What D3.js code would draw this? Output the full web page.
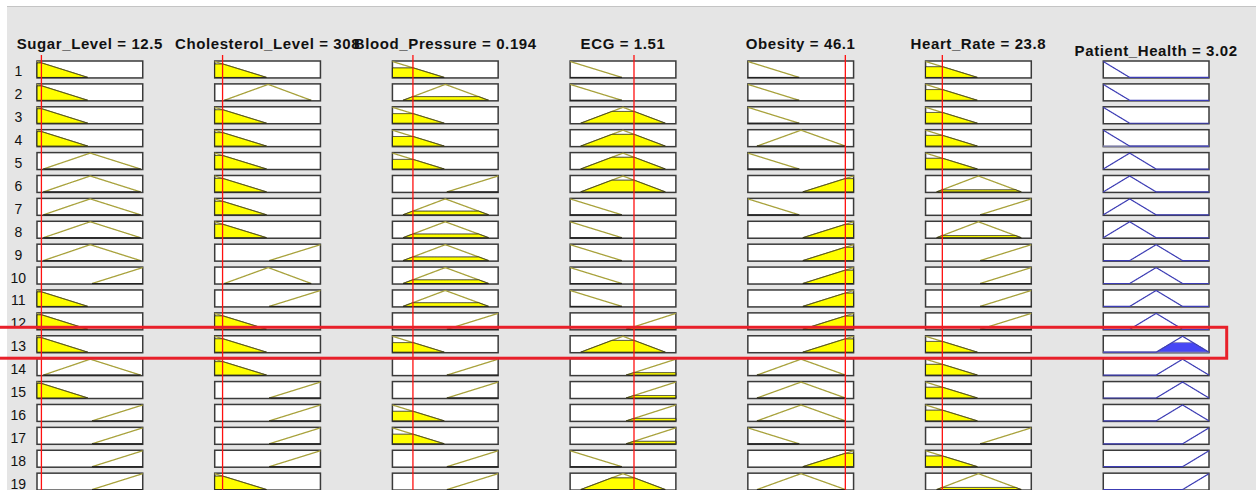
<!DOCTYPE html>
<html>
<head>
<meta charset="utf-8">
<script src="https://cdn.jsdelivr.net/npm/d3@7"></script>
<style>
  body { margin: 0; background: #fff; }
  text { font-family: "Liberation Sans", Arial, Helvetica, sans-serif; fill: #111; }
</style>
</head>
<body>
<svg width="1256" height="490"></svg>
<script>
// fuzzy inputs
var inputNames = ["Sugar_Level", "Cholesterol_Level", "Blood_Pressure", "ECG", "Obesity", "Heart_Rate"];
var inputValues = [12.5, 308, 0.194, 1.51, 46.1, 23.8];
var inputRanges = [[0, 300], [100, 2900], [0, 1], [0, 2.5], [0, 50], [0, 150]];

// triangle MFs [a, b, c] : low, medium, high
var sugarMF = [[-144, 0, 144], [18, 151, 294], [156, 300, 444]];
var cholesterolMF = [[-1272, 100, 1472], [352, 1517, 2656], [1542, 2900, 4258]];
var pressureMF = [[-0.49, 0, 0.49], [0.1, 0.5, 0.91], [0.515, 1, 1.485]];
var ecgMF = [[-1.225, 0, 1.225], [0.25, 1.25, 2.25], [1.325, 2.5, 3.675]];
var obesityMF = [[-24.3, 0, 24.3], [4.3, 25.15, 46.2], [26, 50, 74]];
var heartRateMF = [[-73.5, 0, 73.5], [15.75, 75, 135.75], [77.25, 150, 222.75]];
var inputMFs = [sugarMF, cholesterolMF, pressureMF, ecgMF, obesityMF, heartRateMF];

var outputName = "Patient_Health";
var outputValue = 3.02;
var outputRange = [0, 4];
var healthMF = [[-1, 0, 1], [0, 1, 2], [1, 2, 3], [2, 3, 4], [3, 4, 5]];

// rule antecedents (0 low, 1 medium, 2 high) and consequents
var ruleInputs = [
  [0, 0, 0, 0, 0, 0],
  [0, 1, 1, 0, 0, 0],
  [0, 0, 0, 1, 0, 0],
  [0, 0, 0, 1, 1, 0],
  [1, 0, 0, 1, 0, 0],
  [1, 0, 2, 1, 2, 1],
  [1, 0, 1, 0, 0, 2],
  [1, 0, 1, 0, 2, 1],
  [1, 2, 1, 0, 2, 2],
  [2, 1, 1, 0, 2, 2],
  [0, 2, 1, 0, 2, 2],
  [0, 0, 2, 2, 2, 2],
  [0, 0, 0, 1, 2, 0],
  [1, 0, 2, 2, 1, 0],
  [0, 2, 2, 2, 1, 0],
  [2, 2, 0, 2, 1, 0],
  [2, 2, 0, 2, 0, 2],
  [2, 2, 2, 0, 2, 0],
  [2, 0, 2, 1, 1, 1]
];
var ruleOutputs = [0, 0, 0, 0, 1, 1, 1, 1, 2, 2, 2, 2, 3, 3, 3, 3, 4, 4, 4];
var highlightRule = 13;

var svg = d3.select("svg");
var W = 1256, H = 490;

function trimf(x, p) {
  var a = p[0], b = p[1], c = p[2];
  if (x <= a || x >= c) return (x == b) ? 1 : 0;
  return x <= b ? (x - a) / (b - a) : (c - x) / (c - b);
}

// sample points over [lo,hi] with the MF corners included
function samples(lo, hi, p) {
  var xs = d3.range(201).map(function(i) { return lo + (hi - lo) * i / 200; });
  p.forEach(function(v) { if (v > lo && v < hi) xs.push(v); });
  return xs.sort(function(a, b) { return a - b; });
}

// background like the matlab figure
svg.append("rect").attr("width", W).attr("height", H).attr("fill", "#fff");
svg.append("rect").attr("x", 7).attr("y", 7).attr("width", W - 7).attr("height", H - 7).attr("fill", "#e5e5e5");
svg.append("line").attr("x1", 7).attr("x2", W).attr("y1", 6.5).attr("y2", 6.5).attr("stroke", "#c4c4c4");

var col = d3.scaleBand().domain(d3.range(7)).range([37, 1209]).paddingInner(0.405).paddingOuter(0);
var rowIds = d3.range(1, ruleInputs.length + 1);
var row = d3.scaleBand().domain(rowIds).range([61, 490.1]).paddingInner(0.26).paddingOuter(0);
var bw = col.bandwidth(), bh = row.bandwidth();

var line = d3.line();

// firing strength of each rule (AND = min)
var strengths = ruleInputs.map(function(r) {
  return d3.min(r.map(function(m, j) { return trimf(inputValues[j], inputMFs[j][m]); }));
});

function box(x0, top) {
  svg.append("rect")
    .attr("x", x0).attr("y", top).attr("width", bw).attr("height", bh)
    .attr("fill", "#fff").attr("stroke", "#3a3a3a").attr("stroke-width", 1.5);
}

rowIds.forEach(function(id, i) {
  var top = row(id);
  var y = d3.scaleLinear().domain([0, 1]).range([top + bh - 0.5, top + 0.5]);

  // row number
  svg.append("text")
    .attr("x", 18.3).attr("y", top + bh - 1.5)
    .attr("text-anchor", "middle")
    .attr("font-size", "14px")
    .text(id);

  // input plots
  inputNames.forEach(function(name, j) {
    var x = d3.scaleLinear().domain(inputRanges[j]).range([col(j), col(j) + bw]);
    var p = inputMFs[j][ruleInputs[i][j]];
    var lo = Math.max(p[0], inputRanges[j][0]), hi = Math.min(p[2], inputRanges[j][1]);
    var xs = samples(lo, hi, p);
    var deg = trimf(inputValues[j], p);

    box(col(j), top);

    svg.append("path")
      .attr("d", line(xs.map(function(v) { return [x(v), y(trimf(v, p))]; })))
      .attr("fill", "none").attr("stroke", "#a8a23c").attr("stroke-width", 1.3);

    var area = xs.map(function(v) { return [x(v), y(Math.min(trimf(v, p), deg))]; });
    area.push([x(hi), y(0)]);
    area.unshift([x(lo), y(0)]);
    svg.append("path")
      .attr("d", line(area) + "Z")
      .attr("fill", "#ffff00").attr("stroke", "#222").attr("stroke-width", 1);
  });

  // output plot
  var xo = d3.scaleLinear().domain(outputRange).range([col(6), col(6) + bw]);
  var po = healthMF[ruleOutputs[i]];
  var xso = samples(outputRange[0], outputRange[1], po);
  box(col(6), top);
  if (strengths[i] > 0) {
    var s = strengths[i];
    var oa = xso.map(function(v) { return [xo(v), y(Math.min(trimf(v, po), s))]; });
    oa.push([xo(outputRange[1]), y(0)]);
    oa.unshift([xo(outputRange[0]), y(0)]);
    svg.append("path")
      .attr("d", line(oa) + "Z")
      .attr("fill", "#4646f5").attr("stroke", "#8e8eb4").attr("stroke-width", 1);
  }
  svg.append("path")
    .attr("d", line(xso.map(function(v) { return [xo(v), y(trimf(v, po))]; })))
    .attr("fill", "none").attr("stroke", "#3c3cb4").attr("stroke-width", 1.2);
});

// red lines at the input values
inputNames.forEach(function(name, j) {
  var x = d3.scaleLinear().domain(inputRanges[j]).range([col(j), col(j) + bw]);
  svg.append("line")
    .attr("x1", x(inputValues[j])).attr("x2", x(inputValues[j]))
    .attr("y1", 55).attr("y2", H)
    .attr("stroke", "#ff1010").attr("stroke-width", 1.3);
});

// titles
inputNames.forEach(function(name, j) {
  svg.append("text")
    .attr("x", col(j) + bw / 2).attr("y", 49)
    .attr("text-anchor", "middle")
    .attr("font-size", "15px").attr("font-weight", "bold")
    .attr("letter-spacing", "0.6px")
    .text(name + " = " + inputValues[j]);
});
svg.append("text")
  .attr("x", col(6) + bw / 2).attr("y", 56)
  .attr("text-anchor", "middle")
  .attr("font-size", "15px").attr("font-weight", "bold")
  .attr("letter-spacing", "0.6px")
  .text(outputName + " = " + outputValue);

// highlighted rule
var ht = row(highlightRule);
svg.append("rect")
  .attr("x", -10).attr("y", ht - 8.5)
  .attr("width", 1236.7).attr("height", bh + 14)
  .attr("fill", "none").attr("stroke", "#e8202a").attr("stroke-width", 3);
</script>
</body>
</html>
